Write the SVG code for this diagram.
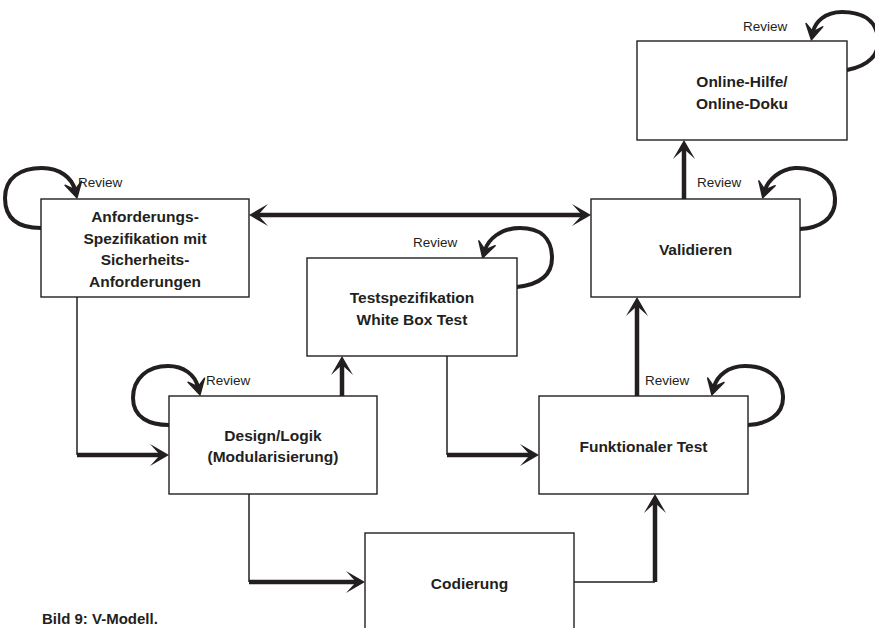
<svg xmlns="http://www.w3.org/2000/svg" width="875" height="628" viewBox="0 0 875 628">
<defs>
<style>
.box{fill:#fff;stroke:#231f20;stroke-width:1.4}
.t{font-family:"Liberation Sans",Arial,sans-serif;font-weight:bold;font-size:15.5px;fill:#231f20;text-anchor:middle}
.rv{font-family:"Liberation Sans",Arial,sans-serif;font-size:13.5px;fill:#231f20}
.thin{fill:none;stroke:#231f20;stroke-width:1.5}
.thick{fill:none;stroke:#231f20;stroke-width:4.5}
.loop{fill:none;stroke:#231f20;stroke-width:4;stroke-linecap:round}
.cap{font-family:"Liberation Sans",Arial,sans-serif;font-weight:bold;font-size:15px;fill:#231f20}
</style>
<marker id="ah" markerUnits="userSpaceOnUse" viewBox="-11 -12 21 24" refX="0" refY="0" markerWidth="21" markerHeight="24" orient="auto-start-reverse" overflow="visible">
<path d="M9,0 L-10,-11 L0,0 L-10,11 Z" fill="#231f20"/>
</marker>
<marker id="lh" markerUnits="userSpaceOnUse" viewBox="-8 -9 17 18" refX="0" refY="0" markerWidth="17" markerHeight="18" orient="auto" overflow="visible">
<path d="M8,0 L-7,-8.5 L0,0 L-7,8.5 Z" fill="#231f20" stroke="#231f20" stroke-width="1.5" stroke-linejoin="round"/>
</marker>
</defs>
<rect width="875" height="628" fill="#fff"/>

<g id="connectors">
<path class="thick" d="M258,215 H582" marker-start="url(#ah)" marker-end="url(#ah)"/>
<path class="thin" d="M77,297 V455"/>
<path class="thick" d="M77,455 H160" marker-end="url(#ah)"/>
<path class="thick" d="M342,396 V365" marker-end="url(#ah)"/>
<path class="thin" d="M447,356 V455"/>
<path class="thick" d="M447,455 H530" marker-end="url(#ah)"/>
<path class="thin" d="M249,494 V582"/>
<path class="thick" d="M249,582 H356" marker-end="url(#ah)"/>
<path class="thin" d="M574,582 H655"/>
<path class="thick" d="M655,582 V503" marker-end="url(#ah)"/>
<path class="thick" d="M637,396 V306" marker-end="url(#ah)"/>
<path class="thick" d="M684,199 V149" marker-end="url(#ah)"/>
<path class="loop" d="M41,228 C22,228 5,222 5,198 C5,178 20,168 42,168 C60,168 72,178 75,190" marker-end="url(#lh)"/>
<path class="loop" d="M169,425 C150,425 133,418 133,398 C133,378 148,366 168,366 C184,366 195,375 198,387" marker-end="url(#lh)"/>
<path class="loop" d="M517,287 C535,285 552,278 552,258 C552,238 540,228 520,228 C500,228 488,240 485,250" marker-end="url(#lh)"/>
<path class="loop" d="M847,70 C868,66 880,55 878,38 C876,20 862,12 842,12 C825,12 815,22 813,32" marker-end="url(#lh)"/>
<path class="loop" d="M800,229 C818,228 836,220 835,198 C834,178 815,167 795,168 C780,169 768,180 765,190" marker-end="url(#lh)"/>
<path class="loop" d="M748,425 C766,424 784,416 783,396 C782,376 765,366 745,366 C728,366 717,376 714,387" marker-end="url(#lh)"/>
</g>

<g id="online">
<rect class="box" x="637" y="41" width="210" height="99"/>
<text class="t" x="742" y="87">Online-Hilfe/</text>
<text class="t" x="742" y="109">Online-Doku</text>
<text class="rv" x="743" y="30.5">Review</text>
</g>

<g id="anforderungen">
<rect class="box" x="41" y="199" width="208" height="98"/>
<text class="t" x="145" y="222">Anforderungs-</text>
<text class="t" x="145" y="243.5">Spezifikation mit</text>
<text class="t" x="145" y="265">Sicherheits-</text>
<text class="t" x="145" y="286.5">Anforderungen</text>
<text class="rv" x="78" y="187">Review</text>
</g>

<g id="validieren">
<rect class="box" x="591" y="199" width="209" height="98"/>
<text class="t" x="695.5" y="255">Validieren</text>
<text class="rv" x="697" y="187">Review</text>
</g>

<g id="testspezifikation">
<rect class="box" x="307" y="258" width="210" height="98"/>
<text class="t" x="412" y="303">Testspezifikation</text>
<text class="t" x="412" y="325">White Box Test</text>
<text class="rv" x="413" y="247">Review</text>
</g>

<g id="design">
<rect class="box" x="169" y="396" width="208" height="98"/>
<text class="t" x="273" y="441">Design/Logik</text>
<text class="t" x="273" y="462">(Modularisierung)</text>
<text class="rv" x="206" y="384.5">Review</text>
</g>

<g id="funktional">
<rect class="box" x="539" y="396" width="209" height="98"/>
<text class="t" x="643.5" y="452">Funktionaler Test</text>
<text class="rv" x="645" y="384.5">Review</text>
</g>

<g id="codierung">
<rect class="box" x="365" y="533" width="209" height="110"/>
<text class="t" x="469.5" y="589">Codierung</text>
</g>

<text class="cap" x="42" y="624">Bild 9: V-Modell.</text>
</svg>
